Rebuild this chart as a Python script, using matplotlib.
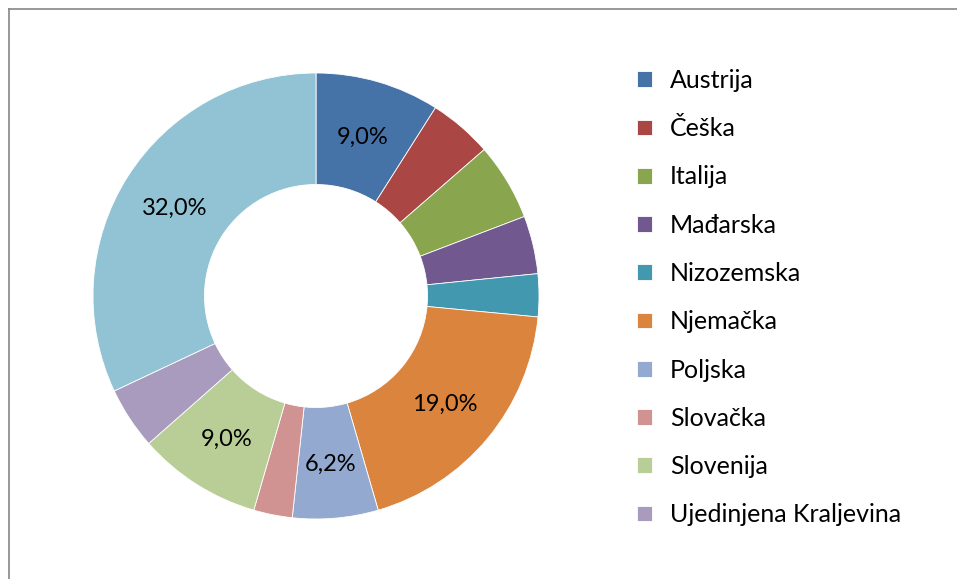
import numpy as np
import matplotlib.pyplot as plt
from matplotlib.lines import Line2D

# share per country (%); last slice has no legend entry in the source
countries = ["Austrija", "Češka", "Italija", "Mađarska", "Nizozemska", "Njemačka",
             "Poljska", "Slovačka", "Slovenija", "Ujedinjena Kraljevina", "Ostalo"]
shares = [9.0, 4.6, 5.6, 4.2, 3.1, 19.0, 6.2, 2.8, 9.0, 4.5, 32.0]
colors = ["#4572A7", "#AA4643", "#89A54E", "#71588F", "#4198AF", "#DB843D",
          "#93A9CF", "#D19392", "#B9CD96", "#A99BBD", "#92C3D4"]
show_label = [True, False, False, False, False, True, True, False, True, False, True]

W, H = 957, 579
plt.rcParams["font.family"] = ["Lato", "DejaVu Sans"]

fig = plt.figure(figsize=(W / 100, H / 100), dpi=100)
ax = fig.add_axes([93 / W, 60 / H, 446 / W, 446 / H])

wedges, _ = ax.pie(shares, colors=colors, startangle=90, counterclock=False,
                   radius=1, wedgeprops=dict(width=0.5, edgecolor="white", linewidth=0.6))

# percentage labels in the middle of the ring
for w, s, show in zip(wedges, shares, show_label):
    if not show:
        continue
    ang = np.deg2rad((w.theta1 + w.theta2) / 2)
    ax.text(0.75 * np.cos(ang), 0.75 * np.sin(ang) - 0.01, f"{s:.1f}%".replace(".", ","),
            ha="center", va="center", fontsize=17, color="black")
ax.set_xlim(-1, 1)
ax.set_ylim(-1, 1)

fig.legend(wedges[:10], countries[:10], loc="upper left",
           bbox_to_anchor=(637 / W, 1 - 69 / H), frameon=False, fontsize=18,
           handlelength=0.6, handleheight=0.6, handletextpad=0.72,
           labelspacing=1.01, borderpad=0, borderaxespad=0)

# chart-area frame (only top and left edges are visible)
fig.add_artist(Line2D([8.5 / W, 1], [1 - 8.5 / H] * 2, color="#868686", lw=1.2,
                      transform=fig.transFigure))
fig.add_artist(Line2D([8.5 / W] * 2, [0, 1 - 8.5 / H], color="#868686", lw=1.2,
                      transform=fig.transFigure))

fig.savefig("out.png", dpi=100)
